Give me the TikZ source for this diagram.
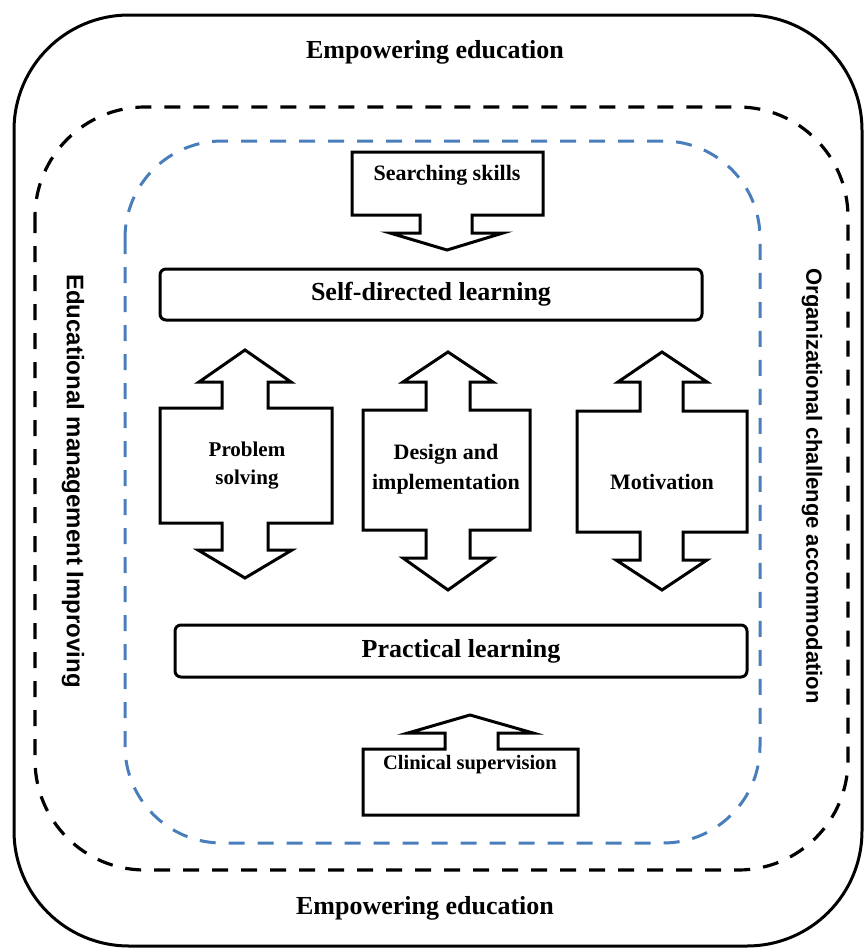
\documentclass[tikz,border=0pt]{standalone}
\usepackage{fontspec}
\setmainfont{Liberation Serif}
\newfontfamily\lsans{Liberation Sans}
\definecolor{dashblue}{RGB}{74,126,187}
\begin{document}
\begin{tikzpicture}[x=1pt,y=-1pt,
  outerline/.style={line width=3pt, rounded corners=115pt},
  blkdash/.style={line width=3.2pt, dash pattern=on 16pt off 13pt, rounded corners=110pt},
  bluedash/.style={line width=3pt, dash pattern=on 16pt off 13pt, draw=dashblue, rounded corners=97pt},
  shapeline/.style={line width=3pt, line join=miter, fill=white},
  bar/.style={draw, line width=3pt, rounded corners=6pt, inner sep=0pt},
  biglbl/.style={font=\bfseries\fontsize{26}{30}\selectfont, inner sep=0pt},
  lbl/.style={font=\bfseries\fontsize{22}{29}\selectfont, align=center, inner sep=0pt},
  sidelbl/.style={font=\lsans\bfseries\fontsize{22}{26}\selectfont, inner sep=0pt, rotate=-90}
]
\useasboundingbox (0,0) rectangle (864,948);
% frames
\draw[outerline] (14,15) rectangle (862,946);
\draw[blkdash] (35,107) rectangle (848,870);
\draw[bluedash] (125,141) rectangle (760,843);
% frame labels
\node[biglbl] (emptop) at (435,52) {Empowering education};
\node[biglbl] (empbot) at (425,908) {Empowering education};
\node[sidelbl, font=\lsans\bfseries\fontsize{24}{26}\selectfont] (leftlbl) at (73,481) {Educational management Improving};
\node[sidelbl] (rightlbl) at (812,486) {Organizational challenge accommodation};
% searching skills
\draw[shapeline] (352,152) -- (543,152) -- (543,215) -- (472,215) -- (472,233) -- (503,233) -- (447,250) -- (390,233) -- (420,233) -- (420,215) -- (352,215) -- cycle;
\node[lbl] (search) at (447,175) {Searching skills};
% bars
\node[bar, minimum width=542pt, minimum height=51pt, font=\bfseries\fontsize{26}{30}\selectfont] (sdl) at (431,294.5) {Self-directed learning};
\node[bar, minimum width=572pt, minimum height=52pt, font=\bfseries\fontsize{26}{30}\selectfont] (prl) at (461,651) {Practical learning};
% double arrows
\draw[shapeline] (245,350) -- (291,382) -- (268,382) -- (268,408) -- (332,408) -- (332,523) -- (268,523) -- (268,550) -- (292,550) -- (245,578) -- (198,550) -- (222,550) -- (222,523) -- (160,523) -- (160,408) -- (222,408) -- (222,382) -- (199,382) -- cycle;
\node[lbl, font=\bfseries\fontsize{21}{28}\selectfont] (prob) at (247,466) {Problem\\solving};
\draw[shapeline] (448,352) -- (493,382) -- (470,382) -- (470,410) -- (530,410) -- (530,530) -- (470,530) -- (470,558) -- (493,558) -- (448,590) -- (403,558) -- (426,558) -- (426,530) -- (363,530) -- (363,410) -- (426,410) -- (426,382) -- (403,382) -- cycle;
\node[lbl, font=\bfseries\fontsize{22}{30}\selectfont] (design) at (446,469) {Design and\\implementation};
\draw[shapeline] (662,352) -- (707,382) -- (683,382) -- (683,411) -- (747,411) -- (747,532) -- (683,532) -- (683,560) -- (707,560) -- (662,590) -- (616,560) -- (640,560) -- (640,532) -- (577,532) -- (577,411) -- (640,411) -- (640,382) -- (618,382) -- cycle;
\node[lbl] (motiv) at (662,482) {Motivation};
% clinical supervision
\draw[shapeline] (470,715) -- (533,733) -- (498,733) -- (498,749) -- (578,749) -- (578,815) -- (363,815) -- (363,749) -- (445,749) -- (445,733) -- (408,733) -- cycle;
\node[lbl, font=\bfseries\fontsize{20.5}{24}\selectfont] (clin) at (470,765) {Clinical supervision};
\end{tikzpicture}
\end{document}
